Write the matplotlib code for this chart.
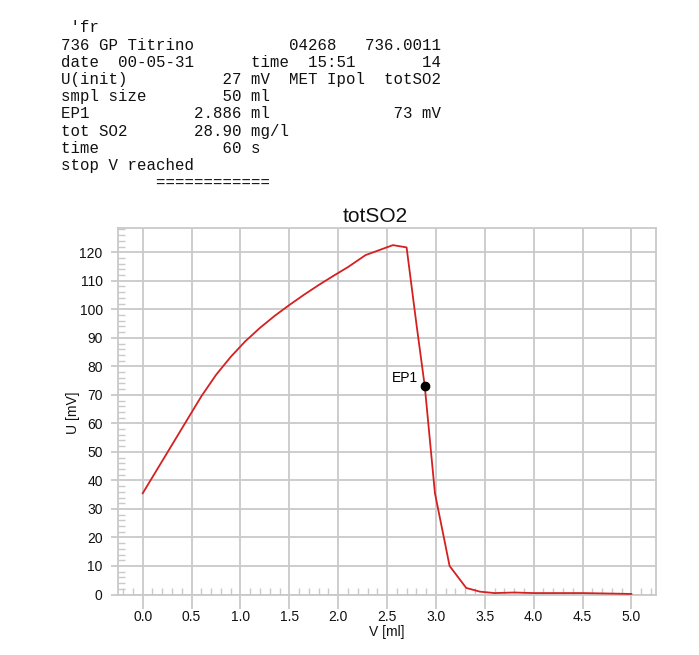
import matplotlib
matplotlib.use("Agg")
import matplotlib.pyplot as plt
from matplotlib.ticker import MultipleLocator

# ---- data ----
volume_ml = [0.00, 0.30, 0.60, 0.75, 0.90, 1.05, 1.20, 1.35, 1.50, 1.65, 1.80, 1.95,
             2.10, 2.28, 2.56, 2.70, 2.80, 2.886, 2.99, 3.14, 3.31, 3.45, 3.60,
             3.80, 4.00, 4.50, 5.00]
potential_mV = [35.5, 52.5, 69.5, 77.0, 83.3, 88.8, 93.5, 97.7, 101.5, 105.1, 108.5, 111.7,
                114.8, 119.0, 122.5, 121.7, 95.0, 73.0, 35.5, 10.0, 2.3, 1.0, 0.5,
                0.7, 0.5, 0.5, 0.2]
ep_volume = [2.886]
ep_potential = [73.0]
ep_labels = ["EP1"]
x_ticks = [0.0, 0.5, 1.0, 1.5, 2.0, 2.5, 3.0, 3.5, 4.0, 4.5, 5.0]
y_ticks = [0, 10, 20, 30, 40, 50, 60, 70, 80, 90, 100, 110, 120]

header_lines = [
    " 'fr",
    "736 GP Titrino          04268   736.0011",
    "date  00-05-31      time  15:51       14",
    "U(init)          27 mV  MET Ipol  totSO2",
    "smpl size        50 ml",
    "EP1           2.886 ml             73 mV",
    "tot SO2       28.90 mg/l",
    "time             60 s",
    "stop V reached",
    "          ============",
]
title = "totSO2"
xlabel = "V [ml]"
ylabel = "U [mV]"

W, H = 699, 655
fig = plt.figure(figsize=(W / 100, H / 100), dpi=100)
fig.patch.set_facecolor("white")

# header text block (monospace)
line_y0 = 28.0
line_dy = 17.2
for i, line in enumerate(header_lines):
    fig.text(61 / W, 1 - (line_y0 + i * line_dy) / H, line,
             family="Liberation Mono", fontsize=11.35, va="center", ha="left",
             color="#111111")

ax_l, ax_r, ax_t, ax_b = 118, 656, 228.3, 594.5
ax = fig.add_axes([ax_l / W, 1 - ax_b / H, (ax_r - ax_l) / W, (ax_b - ax_t) / H])

gridc = "#c9c9c9"
ax.plot(volume_ml, potential_mV, color="#d42020", lw=1.3, zorder=3)
ax.plot(ep_volume, ep_potential, "o", color="black", ms=6, zorder=4)
for xv, yv, lab in zip(ep_volume, ep_potential, ep_labels):
    ax.annotate(lab, (xv, yv), xytext=(-5, 6), textcoords="offset points",
                ha="right", va="center", fontsize=10, family="Liberation Sans")

ax.set_xlim(-0.253, 5.252)
ax.set_ylim(0, 128.4)
ax.set_xticks(x_ticks)
ax.set_xticklabels([f"{v:.1f}" for v in x_ticks])
ax.set_yticks(y_ticks)
ax.set_yticklabels([str(v) for v in y_ticks])
ax.xaxis.set_minor_locator(MultipleLocator(0.1))
ax.yaxis.set_minor_locator(MultipleLocator(2))

ax.grid(True, which="major", color=gridc, lw=1.3, zorder=0)
for s in ax.spines.values():
    s.set_color(gridc)
    s.set_linewidth(1.3)

ax.tick_params(axis="x", which="major", direction="out", length=10, width=1.3,
               color=gridc, pad=1, labelsize=10, labelcolor="#111111")
ax.tick_params(axis="y", which="major", direction="out", length=5, width=1.3,
               color=gridc, pad=6, labelsize=10, labelcolor="#111111")
ax.tick_params(which="minor", direction="in", length=5, width=1.0, color=gridc)
for lab in ax.get_xticklabels() + ax.get_yticklabels():
    lab.set_family("Liberation Sans")

fig.text(387 / W, 1 - 632 / H, xlabel, ha="center", va="center",
         fontsize=10, family="Liberation Sans", color="#111111")
fig.text(73 / W, 1 - 413 / H, ylabel, ha="center", va="center", rotation=90,
         fontsize=10, family="Liberation Sans", color="#111111")
fig.text(375 / W, 1 - 216.5 / H, title, ha="center", va="center",
         fontsize=15, family="Liberation Sans", color="#111111")

fig.savefig("out.png", dpi=100, facecolor="white")
